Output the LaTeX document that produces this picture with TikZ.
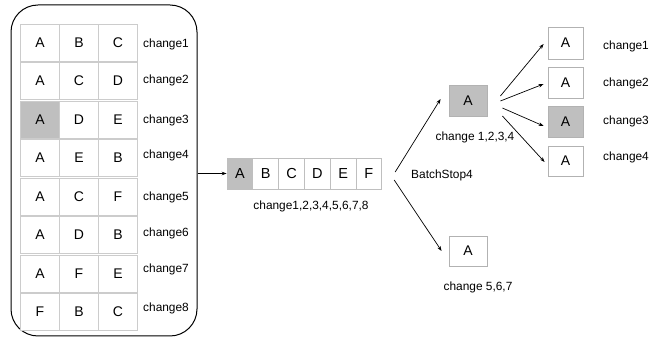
\documentclass[tikz,border=0pt]{standalone}
\usepackage{fontspec}
\setmainfont{Liberation Sans}
\usetikzlibrary{arrows.meta,calc}
\begin{document}
\begin{tikzpicture}[x=1pt,y=-1pt,
  cellbox/.style={draw=gray!40,fill=white,line width=0.8pt,minimum width=39pt,minimum height=37pt,inner sep=0pt,font=\fontsize{14}{16}\selectfont},
  arrcell/.style={draw=gray!50,fill=white,line width=0.8pt,minimum width=25.8pt,minimum height=31pt,inner sep=0pt,font=\fontsize{14.5}{16}\selectfont},
  abox/.style={draw=gray!60,fill=white,line width=0.8pt,minimum width=36pt,minimum height=31pt,inner sep=0pt,font=\fontsize{14}{16}\selectfont},
  shaded/.style={fill=gray!50},
  lbl/.style={font=\fontsize{11.9}{13}\selectfont,inner sep=0pt},
  conn/.style={-{Stealth[length=5pt,width=3.6pt]},line width=0.7pt}]
\useasboundingbox (0,0) rectangle (657,339);
% group box
\node[draw,line width=1pt,rounded corners=27pt,minimum width=186pt,minimum height=331pt] (group) at (104,170.5) {};
% grid rows
\foreach \i/\a/\b/\c/\ly in {1/A/B/C/44,2/A/C/D/80,3/A/D/E/120,4/A/E/B/155,5/A/C/F/197,6/A/D/B/233,7/A/F/E/269,8/F/B/C/308}{
  \pgfmathsetmacro{\yc}{24+38.5*(\i-1)+18.5}
  \node[cellbox] (r\i c1) at (40,\yc) {\a};
  \node[cellbox] (r\i c2) at (79,\yc) {\b};
  \node[cellbox] (r\i c3) at (118,\yc) {\c};
  \node[lbl,anchor=west] (l\i) at (143,\ly) {change\i};
}
\node[cellbox,shaded] at (r3c1) {A};
% middle array
\foreach \k/\t in {1/A,2/B,3/C,4/D,5/E,6/F}{
  \node[arrcell] (m\k) at ({227+12.9+25.8*(\k-1)},173.5) {\t};
}
\node[arrcell,shaded] at (m1) {A};
\node[lbl] (ml) at (311,206) {change1,2,3,4,5,6,7,8};
\draw[conn] (group.east |- m1.west) -- (m1.west);
% batch nodes
\node[abox,shaded,minimum width=38pt] (t) at (468,100.5) {A};
\node[lbl] (tl) at (475,137) {change 1,2,3,4};
\node[abox,minimum width=38pt,minimum height=30pt] (b) at (468,251) {A};
\node[lbl] (bl) at (478,287) {change 5,6,7};
\node[lbl] (bs) at (442,175) {BatchStop4};
\draw[conn] ([shift={(13,-1.5)}]m6.east) -- ([shift={(-8,-1.5)}]t.west);
\draw[conn] ([shift={(12,6.5)}]m6.east) -- ([shift={(-7,0)}]b.west);
% right boxes
\node[abox,minimum width=35pt,minimum height=32pt] (R1) at (565.5,43) {A};
\node[abox,minimum width=35pt] (R2) at (565.5,82.5) {A};
\node[abox,shaded,minimum width=35pt] (R3) at (565.5,121.5) {A};
\node[abox,minimum width=35pt,minimum height=30pt] (R4) at (565.5,161) {A};
\node[lbl,anchor=west] (c1) at (603,46) {change1};
\node[lbl,anchor=west] (c2) at (603,83) {change2};
\node[lbl,anchor=west] (c3) at (603,121) {change3};
\node[lbl,anchor=west] (c4) at (603,157) {change4};
\draw[conn] ([shift={(13,-4.5)}]t.east) -- ([shift={(-4,1)}]R1.west);
\draw[conn] ([shift={(13,0.5)}]t.east) -- ([shift={(-4,1.5)}]R2.west);
\draw[conn] ([shift={(15,7.5)}]t.east) -- ([shift={(-4,4.5)}]R3.west);
\draw[conn] ([shift={(15,15.5)}]t.east) -- ([shift={(-3,1)}]R4.west);
\end{tikzpicture}
\end{document}
